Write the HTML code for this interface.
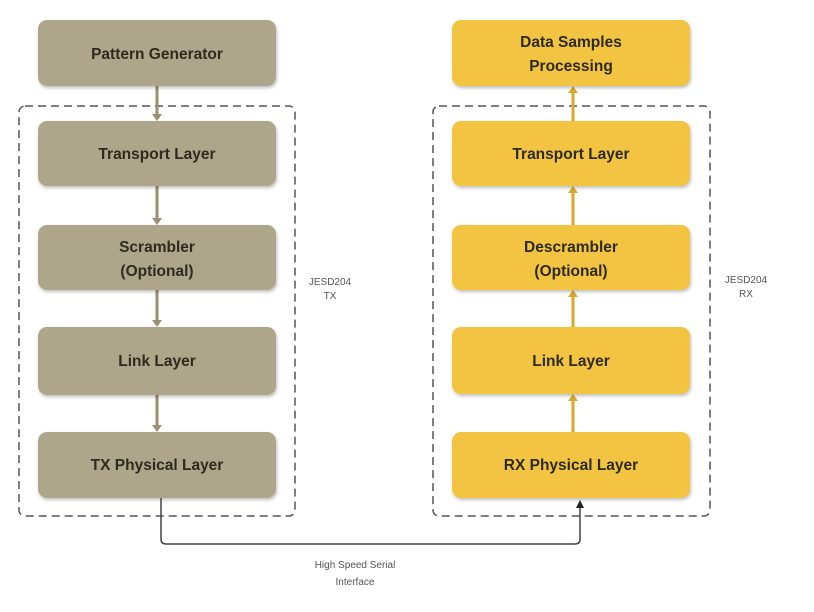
<!DOCTYPE html>
<html><head><meta charset="utf-8"><style>
html,body{margin:0;padding:0;background:#fff;width:814px;height:612px;overflow:hidden}
text{font-family:"Liberation Sans",sans-serif}
</style></head><body>
<svg width="814" height="612" viewBox="0 0 814 612" xmlns="http://www.w3.org/2000/svg">
<defs>
<filter id="sh" x="-5%" y="-5%" width="115%" height="125%"><feDropShadow dx="1" dy="2" stdDeviation="1.5" flood-color="#000" flood-opacity="0.25"/></filter>
</defs>
<rect x="19" y="106" width="276" height="410" rx="6" fill="none" stroke="#555" stroke-width="1.5" stroke-dasharray="8,5"/>
<rect x="433" y="106" width="277" height="410" rx="6" fill="none" stroke="#555" stroke-width="1.5" stroke-dasharray="8,5"/>
<g stroke="#9a9070" stroke-width="3">
<line x1="157" y1="86" x2="157" y2="118"/>
<line x1="157" y1="186" x2="157" y2="222"/>
<line x1="157" y1="290" x2="157" y2="324"/>
<line x1="157" y1="395" x2="157" y2="429"/>
</g>
<g fill="#9a9070">
<polygon points="152,114 162,114 157,121"/>
<polygon points="152,218 162,218 157,225"/>
<polygon points="152,320 162,320 157,327"/>
<polygon points="152,425 162,425 157,432"/>
</g>
<g stroke="#d9a92a" stroke-width="3">
<line x1="573" y1="89" x2="573" y2="121"/>
<line x1="573" y1="189" x2="573" y2="225"/>
<line x1="573" y1="293" x2="573" y2="327"/>
<line x1="573" y1="397" x2="573" y2="432"/>
</g>
<g fill="#d9a92a">
<polygon points="568,93 578,93 573,86"/>
<polygon points="568,193 578,193 573,186"/>
<polygon points="568,297 578,297 573,290"/>
<polygon points="568,401 578,401 573,394"/>
</g>
<g fill="#aea68a" filter="url(#sh)">
<rect x="38" y="20" width="238" height="66" rx="9"/>
<rect x="38" y="121" width="238" height="65" rx="9"/>
<rect x="38" y="225" width="238" height="65" rx="9"/>
<rect x="38" y="327" width="238" height="68" rx="9"/>
<rect x="38" y="432" width="238" height="66" rx="9"/>
</g>
<g fill="#f2c443" filter="url(#sh)">
<rect x="452" y="20" width="238" height="66" rx="9"/>
<rect x="452" y="121" width="238" height="65" rx="9"/>
<rect x="452" y="225" width="238" height="65" rx="9"/>
<rect x="452" y="327" width="238" height="67" rx="9"/>
<rect x="452" y="432" width="238" height="66" rx="9"/>
</g>
<g font-size="15.5" font-weight="bold" fill="#2e2a1c" text-anchor="middle">
<text x="157" y="59">Pattern Generator</text>
<text x="157" y="159">Transport Layer</text>
<text x="157" y="252">Scrambler</text>
<text x="157" y="276">(Optional)</text>
<text x="157" y="366">Link Layer</text>
<text x="157" y="470">TX Physical Layer</text>
<text x="571" y="47">Data Samples</text>
<text x="571" y="71">Processing</text>
<text x="571" y="159">Transport Layer</text>
<text x="571" y="252">Descrambler</text>
<text x="571" y="276">(Optional)</text>
<text x="571" y="366">Link Layer</text>
<text x="571" y="470">RX Physical Layer</text>
</g>
<g font-size="10" fill="#555" text-anchor="middle">
<text x="330" y="285">JESD204</text>
<text x="330" y="299">TX</text>
<text x="746" y="283">JESD204</text>
<text x="746" y="297">RX</text>
<text x="355" y="568">High Speed Serial</text>
<text x="355" y="585">Interface</text>
</g>
<path d="M161,498 V539 Q161,544 166,544 H575 Q580,544 580,539 V503" fill="none" stroke="#444" stroke-width="1.5"/>
<polygon points="576,508 584,508 580,500" fill="#222"/>
</svg>
</body></html>
